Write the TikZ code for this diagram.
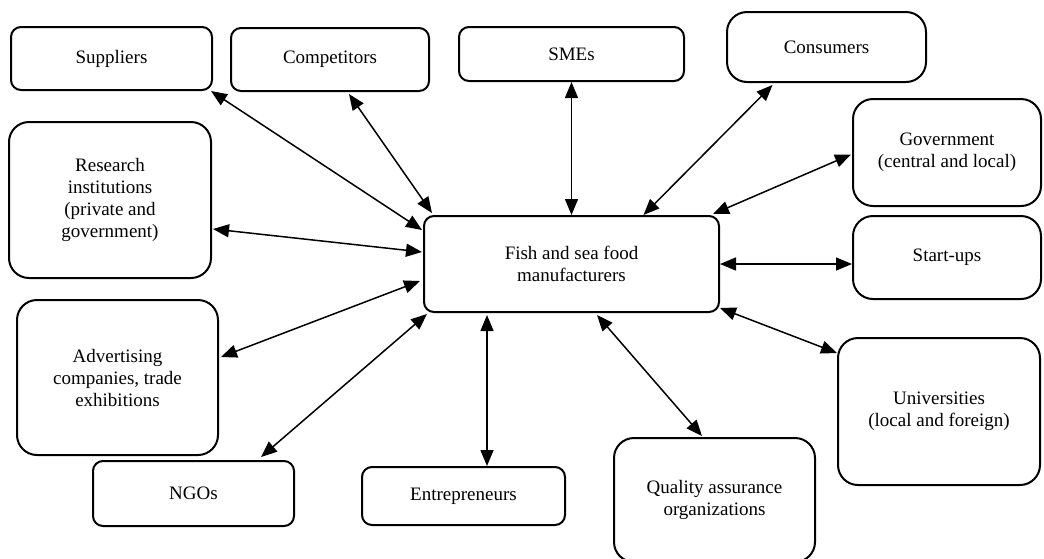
\documentclass[tikz,border=0pt]{standalone}
\usepackage{fontspec}
\setmainfont{Liberation Serif}
\usetikzlibrary{arrows.meta,positioning}

\begin{document}
\begin{tikzpicture}[x=1pt,y=1pt]
            \tikzstyle{every node}+=[inner sep=0pt, font=\fontsize{19}{22}\selectfont, align=center]
            \tikzstyle{box}=[draw=black, line width=2pt, rounded corners=10pt]
            \tikzstyle{bigbox}=[draw=black, line width=2pt, rounded corners=20pt]
            \tikzstyle{link}=[black, line width=1.5pt, {Triangle[length=16pt,width=13pt]}-{Triangle[length=16pt,width=13pt]}]
            \useasboundingbox (0,0) rectangle (1044,-558);
            \node [box, minimum width=295pt, minimum height=96pt] (fish) at (571.5,-264) {Fish and sea food\\manufacturers};
            \node [box, minimum width=201pt, minimum height=63pt] (sup) at (111.5,-58.5) {Suppliers};
            \node [box, minimum width=198pt, minimum height=63pt] (comp) at (330,-59.5) {Competitors};
            \node [box, minimum width=225pt, minimum height=54pt] (sme) at (571.5,-54) {SMEs};
            \node [bigbox, minimum width=199pt, minimum height=70pt] (cons) at (826.5,-47) {Consumers};
            \node [bigbox, minimum width=188pt, minimum height=107pt] (gov) at (947,-152.5) {Government\\(central and local)};
            \node [bigbox, minimum width=188pt, minimum height=83pt] (start) at (947,-257.5) {Start-ups};
            \node [bigbox, minimum width=202pt, minimum height=156pt] (res) at (110,-200) {Research\\institutions\\(private and\\government)};
            \node [bigbox, minimum width=201pt, minimum height=155pt] (adv) at (117.5,-377.5) {Advertising\\companies, trade\\exhibitions};
            \node [box, minimum width=201pt, minimum height=65pt] (ngo) at (193.5,-493.5) {NGOs};
            \node [box, minimum width=203pt, minimum height=58pt] (ent) at (463.5,-496) {Entrepreneurs};
            \node [bigbox, minimum width=201pt, minimum height=124pt] (qual) at (714.5,-500) {Quality assurance\\organizations};
            \node [bigbox, minimum width=202pt, minimum height=147pt] (uni) at (939,-411.5) {Universities\\(local and foreign)};
            \draw [link] ([xshift=-2pt]sup.south east) -- ([yshift=-15pt,xshift=-1pt]fish.north west);
            \draw [link] ([xshift=19pt,yshift=-2pt]comp.south) -- ([xshift=9pt,yshift=2pt]fish.north west);
            \draw [link] (sme.south) -- (fish.north);
            \draw [link] ([xshift=-54pt,yshift=-2pt]cons.south) -- ([xshift=72pt]fish.north);
            \draw [link] ([xshift=-1pt,yshift=-2pt]gov.west) -- ([xshift=-7pt,yshift=1pt]fish.north east);
            \draw [link] (fish.east) -- (fish.east -| start.west);
            \draw [link] ([yshift=-16pt]uni.north west) -- ([yshift=5pt]fish.south east);
            \draw [link] ([xshift=25.5pt,yshift=-2pt]fish.south) -- ([xshift=-12.5pt,yshift=1pt]qual.north);
            \draw [link] ([xshift=-84.5pt,yshift=-2pt]fish.south) -- ([xshift=23.5pt]ent.north);
            \draw [link] ([xshift=4pt,yshift=-1pt]fish.south west) -- ([xshift=-34pt,yshift=3pt]ngo.north east);
            \draw [link] ([yshift=-17pt,xshift=-3pt]fish.west) -- ([yshift=20.5pt,xshift=2pt]adv.east);
            \draw [link] ([yshift=-29pt,xshift=1pt]res.east) -- ([yshift=12pt,xshift=-1pt]fish.west);
\end{tikzpicture}
\end{document}
